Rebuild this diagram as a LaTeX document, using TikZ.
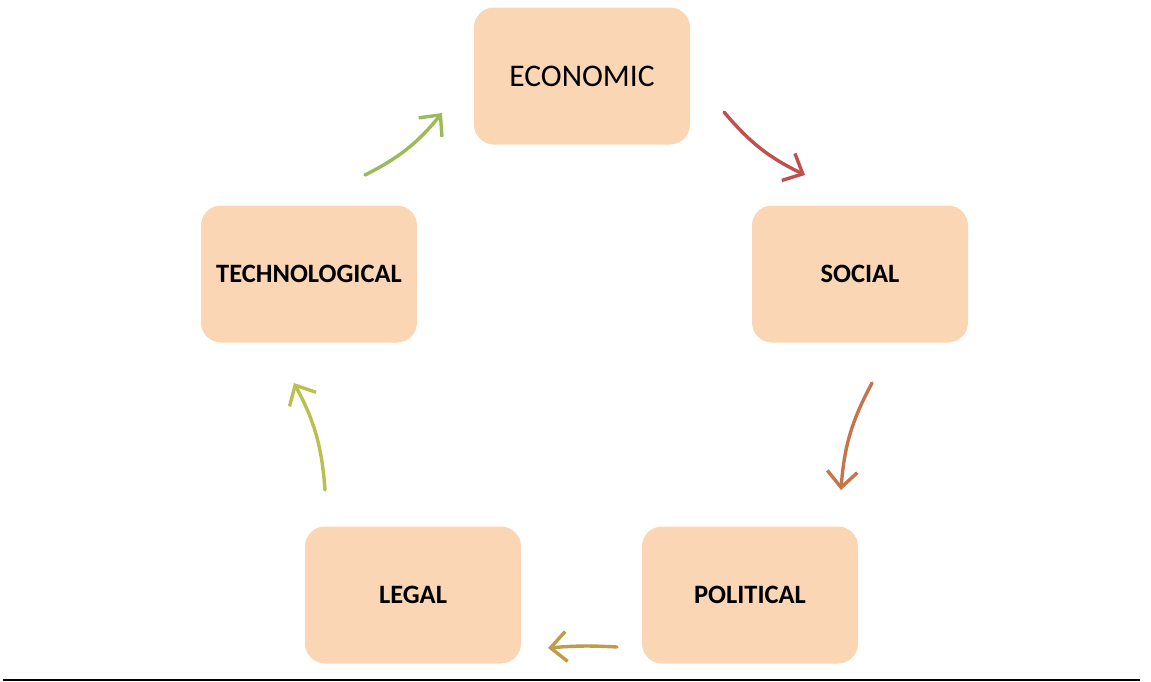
\documentclass[tikz,border=0pt]{standalone}
\usepackage{fontspec}
\setmainfont{Carlito}
\usetikzlibrary{arrows.meta}

\definecolor{peach}{RGB}{251,214,180}
\definecolor{cred}{RGB}{192,80,77}
\definecolor{corange}{RGB}{196,118,74}
\definecolor{cgold}{RGB}{194,155,72}
\definecolor{colive}{RGB}{188,190,78}
\definecolor{cgreen}{RGB}{155,187,89}

\tikzset{
	factor/.style={fill=peach, rounded corners=20pt, minimum width=216pt, minimum height=137pt, inner sep=0pt, font=\fontsize{26.5}{30}\selectfont\bfseries},
	flow/.style={line width=3.4pt, line cap=round, -{Straight Barb[length=16pt,width=30pt,line width=3.4pt]}}
}

\begin{document}
\begin{tikzpicture}[x=1pt,y=-1pt]
			\useasboundingbox (0,0) rectangle (1151,681);

			\node[factor, font=\fontsize{31.5}{36}\selectfont] (eco) at (582,76) {ECONOMIC};
			\node[factor] (soc) at (860,274) {SOCIAL};
			\node[factor] (pol) at (750,595) {POLITICAL};
			\node[factor] (leg) at (413,595) {LEGAL};
			\node[factor] (tec) at (309,274) {TECHNOLOGICAL};

			% arrow ends
			\coordinate (a1) at (724,112);
			\coordinate (b1) at (805,175);
			\coordinate (a2) at (872,383);
			\coordinate (b2) at (841,490);
			\coordinate (a3) at (617,647);
			\coordinate (b3) at (548,648);
			\coordinate (a4) at (325,490);
			\coordinate (b4) at (294,383);
			\coordinate (a5) at (365,175);
			\coordinate (b5) at (442,113);

			\draw[flow, cred] (a1) to[bend right=12] (b1);
			\draw[flow, corange] (a2) to[bend right=12] (b2);
			\draw[flow, cgold] (a3) to[bend right=4] (b3);
			\draw[flow, colive] (a4) to[bend right=12] (b4);
			\draw[flow, cgreen] (a5) to[bend right=12] (b5);

			\draw[line width=2pt] (3,679.5) -- (1140,679.5);
\end{tikzpicture}
\end{document}
